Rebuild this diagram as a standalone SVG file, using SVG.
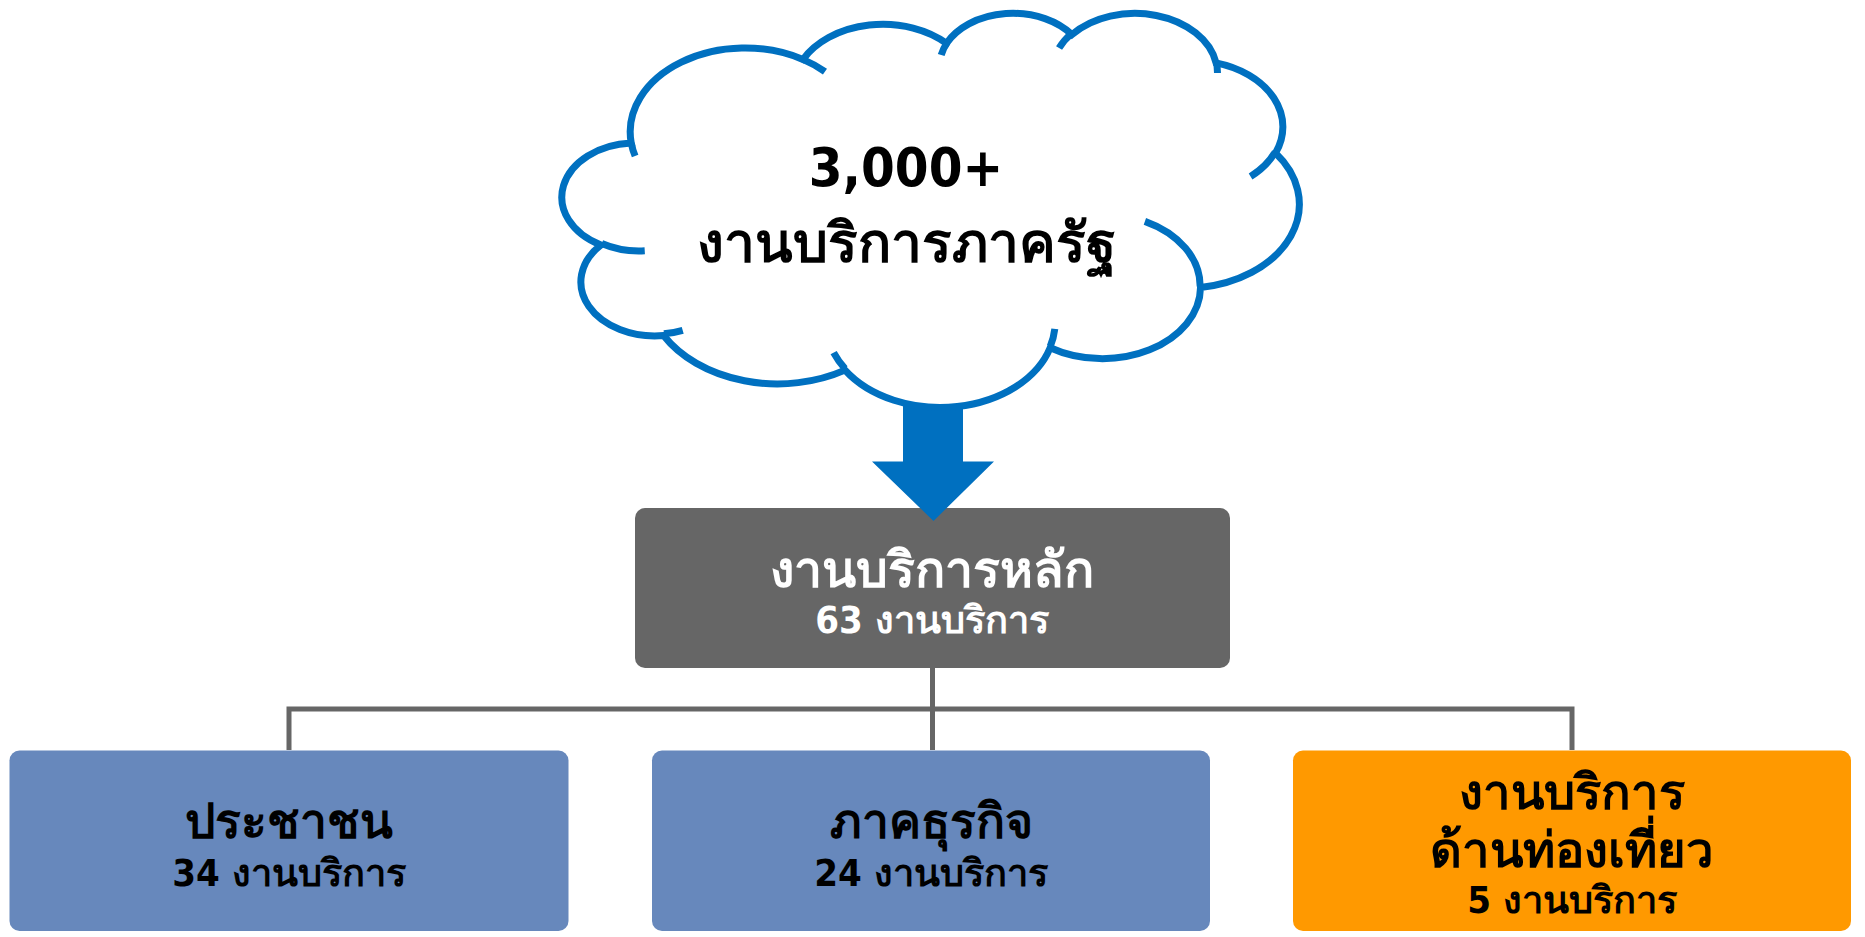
<svg xmlns="http://www.w3.org/2000/svg" width="1865" height="937" viewBox="0 0 1865 937">
<style>
text{font-family:'DejaVu Sans Condensed','DejaVu Sans','Noto Sans',sans-serif;font-weight:bold;text-anchor:middle}
.cloud{fill:#fff;stroke:#0070C0;stroke-width:7}
.tick{fill:none;stroke:#0070C0;stroke-width:7}
.conn{fill:none;stroke:#666;stroke-width:5}
.blue{fill:#6788BC}
.orange{fill:#FF9900}
.gray{fill:#666}
</style>
<rect width="1865" height="937" fill="#fff"/>
<g id="connectors">
<path class="conn" d="M932.5,668 V709 M289,750 V709 H1572 V750 M932.5,709 V750"/>
</g>
<g id="main">
<rect class="gray" x="635" y="508" width="595" height="160" rx="10"/>
<text x="932" y="587" font-size="50" fill="#fff">งานบริการหลัก</text>
<text x="932" y="633" font-size="38" fill="#fff">63 งานบริการ</text>
</g>
<g id="arrow">
<polygon points="903,380 963,380 963,461.5 994,461.5 933.5,521 872,461.5 903,461.5" fill="#0070C0"/>
</g>
<g id="cloud">
<path class="cloud" d="M631.26,143.06 A114.74,83.82 0 0 1 802.96,59.45 A90.61,66.28 0 0 1 946.55,43.31 A74.17,54.22 0 0 1 1071.9,34.64 A82.53,60.15 0 0 1 1216.07,62.87 A90.61,66.33 0 0 1 1275.54,153.01 A115.11,84.09 0 0 1 1200.52,287.46 A98.29,71.75 0 0 1 1050.17,347.75 A114.72,84.04 0 0 1 845,370.12 A131.17,96.16 0 0 1 663.6,335.52 A74.08,53.97 0 0 1 600.9,245.02 A73.83,54.22 0 0 1 631.26,143.06 Z"/>
<path class="tick" d="M644.74,250.75 A73.83,54.22 0 0 1 601.7,243.48 M682.71,330.3 A74.08,53.97 0 0 1 663.88,333.78 M844.98,368.52 A114.72,84.04 0 0 1 833.62,352.63 M1054.8,328.94 A114.72,84.04 0 0 1 1050.27,346.35 M1144.89,221.35 A98.29,71.75 0 0 1 1200.13,286.43 M1275.19,152.04 A90.61,66.33 0 0 1 1250.58,176.45 M1216.16,61.49 A82.53,60.15 0 0 1 1217.46,73.01 M1059.07,48.04 A82.53,60.15 0 0 1 1071.68,33.33 M941.2,55.05 A74.17,54.22 0 0 1 947.3,42.37 M802.87,59.35 A114.74,83.82 0 0 1 824.96,71.65 M635.12,156 A114.74,83.82 0 0 1 631.26,143.06"/>
<text x="906" y="186" font-size="54">3,000+</text>
<text x="906" y="262" font-size="55">งานบริการภาครัฐ</text>
</g>
<g id="people">
<rect class="blue" x="9.5" y="750.5" width="559" height="180.5" rx="10"/>
<text x="289" y="838" font-size="48">ประชาชน</text>
<text x="289" y="886" font-size="38">34 งานบริการ</text>
</g>
<g id="business">
<rect class="blue" x="652" y="750.5" width="558" height="180.5" rx="10"/>
<text x="931" y="838" font-size="48">ภาคธุรกิจ</text>
<text x="931" y="886" font-size="38">24 งานบริการ</text>
</g>
<g id="tourism">
<rect class="orange" x="1293" y="750.5" width="558" height="180.5" rx="10"/>
<text x="1572" y="809" font-size="49">งานบริการ</text>
<text x="1572" y="867" font-size="49">ด้านท่องเที่ยว</text>
<text x="1572" y="913" font-size="38">5 งานบริการ</text>
</g>
</svg>
